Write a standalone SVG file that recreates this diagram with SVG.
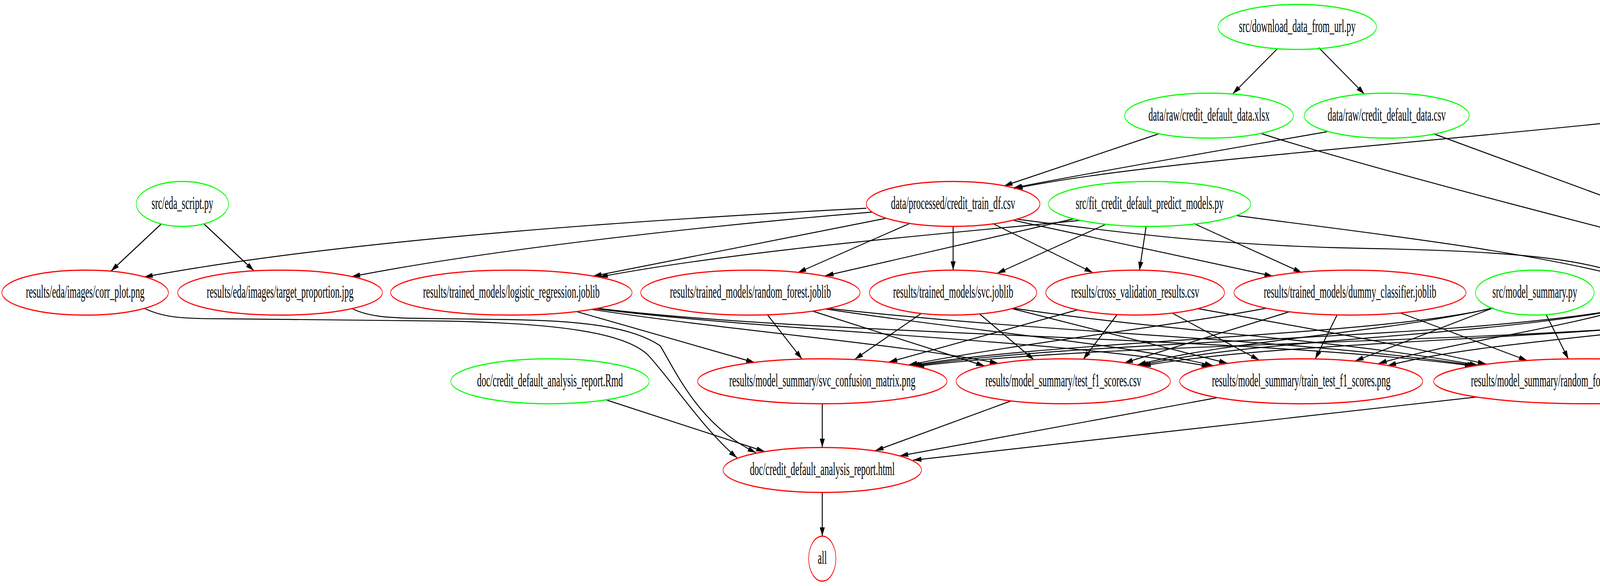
<svg xmlns="http://www.w3.org/2000/svg" width="5000" height="1500" viewBox="0 0 5000 1500">
<defs>
<marker id="ah" viewBox="0 0 22 13" refX="22" refY="6.5" markerWidth="22" markerHeight="13" markerUnits="userSpaceOnUse" orient="auto"><path d="M0,0 L22,6.5 L0,13 z" fill="#000"/></marker>
<style>
.nd ellipse{fill:none;stroke-width:3}
.g ellipse{stroke:#00ff00}
.r ellipse{stroke:#ff0000}
.nd text{font-family:"Liberation Serif","Times New Roman",serif;font-size:46px;text-anchor:middle;fill:#000}
#edges path{fill:none;stroke:#000;stroke-width:2.4;marker-end:url(#ah)}
</style>
</defs>
<rect width="5000" height="1500" fill="#fff"/>
<g id="edges">
<path d="M3270,125 L3156,240"/>
<path d="M3376,122 L3493,241"/>
<path d="M2968,342 L2570,476"/>
<path d="M3398,337 C3200,372 2800,440 2594,481"/>
<path d="M4121,314 C3500,378 2900,420 2596,483"/>
<path d="M3226,341 C3500,430 4200,610 4612,711"/>
<path d="M3669,342 L4650,703"/>
<path d="M4325,348 L4712,694"/>
<path d="M412,574 L284,694"/>
<path d="M523,574 L650,693"/>
<path d="M2218,533 C1700,560 900,610 369,709"/>
<path d="M2232,543 C1900,570 1300,630 900,708"/>
<path d="M2267,559 L1518,707"/>
<path d="M2766,564 C2400,600 1900,640 1534,709"/>
<path d="M2329,572 L2042,698"/>
<path d="M2749,560 L2112,706"/>
<path d="M2440,580 L2440,691"/>
<path d="M2831,574 L2552,700"/>
<path d="M2541,572 L2798,698"/>
<path d="M2934,580 L2917,692"/>
<path d="M2595,564 L3259,707"/>
<path d="M3056,572 L3333,698"/>
<path d="M2603,561 C2900,600 3150,630 3500,636 C3850,642 4050,660 4167,708"/>
<path d="M3167,552 C3450,590 3900,640 4160,710"/>
<path d="M1474,797 L1932,928"/>
<path d="M1515,792 C1900,850 2300,880 2556,930"/>
<path d="M1522,790 C2000,850 2700,868 3098,938"/>
<path d="M1528,789 C2100,860 3200,860 3772,937"/>
<path d="M1964,805 L2053,919"/>
<path d="M2079,796 L2521,937"/>
<path d="M2114,791 C2500,850 2850,875 3106,936"/>
<path d="M2118,789 C2700,855 3300,865 3778,936"/>
<path d="M2359,802 L2188,920"/>
<path d="M2507,803 L2647,921"/>
<path d="M2591,790 L3143,930"/>
<path d="M2595,789 C3000,850 3400,865 3784,935"/>
<path d="M2759,793 L2275,927"/>
<path d="M2860,805 L2773,920"/>
<path d="M3000,801 L3224,922"/>
<path d="M3066,790 C3350,840 3600,885 3805,932"/>
<path d="M3241,789 C3000,835 2600,880 2326,934"/>
<path d="M3301,798 L2878,929"/>
<path d="M3423,806 L3367,919"/>
<path d="M3585,801 L3910,923"/>
<path d="M3815,790 C3500,862 2700,872 2332,936"/>
<path d="M3819,789 C3550,852 3150,870 2912,934"/>
<path d="M3823,788 L3469,924"/>
<path d="M3958,805 L4015,919"/>
<path d="M4160,790 C3700,872 2800,868 2338,937"/>
<path d="M4165,789 C3800,862 3200,868 2918,936"/>
<path d="M4170,788 C3950,850 3700,880 3528,931"/>
<path d="M4256,804 L4123,919"/>
<path d="M4618,791 C4150,880 2900,868 2344,938"/>
<path d="M4623,790 C4150,870 3300,868 2924,937"/>
<path d="M4628,789 C4200,860 3800,872 3552,936"/>
<path d="M4634,792 L4218,924"/>
<path d="M2105,1034 L2105,1145"/>
<path d="M2589,1026 L2240,1154"/>
<path d="M3116,1018 L2303,1167"/>
<path d="M3782,1016 L2337,1178"/>
<path d="M1550,1023 L1958,1156"/>
<path d="M369,789 C420,814 470,816 580,816 L1150,822 C1420,828 1600,850 1660,910 C1720,975 1800,1098 1887,1172"/>
<path d="M900,789 C940,810 990,814 1080,815 L1300,818 C1500,821 1620,838 1690,885 C1730,950 1790,1090 1936,1159"/>
<path d="M2105,1261 L2105,1372"/>
</g>
<g id="n_download" class="nd g" transform="translate(3321,69) scale(0.505,1)"><ellipse rx="402" ry="57.5"/><text y="13">src/download_data_from_url.py</text></g>
<g id="n_xlsx" class="nd g" transform="translate(3095,296) scale(0.505,1)"><ellipse rx="428" ry="57.5"/><text y="13">data/raw/credit_default_data.xlsx</text></g>
<g id="n_csv" class="nd g" transform="translate(3550,296) scale(0.505,1)"><ellipse rx="418" ry="57.5"/><text y="13">data/raw/credit_default_data.csv</text></g>
<g id="n_dataproc" class="nd g" transform="translate(4268,296) scale(0.505,1)"><ellipse rx="301" ry="57.5"/><text y="13">src/data_processing.py</text></g>
<g id="n_eda" class="nd g" transform="translate(467,522) scale(0.505,1)"><ellipse rx="234" ry="57.5"/><text y="13">src/eda_script.py</text></g>
<g id="n_train" class="nd r" transform="translate(2440,522) scale(0.505,1)"><ellipse rx="440" ry="57.5"/><text y="13">data/processed/credit_train_df.csv</text></g>
<g id="n_fit" class="nd g" transform="translate(2943,522) scale(0.505,1)"><ellipse rx="513" ry="57.5"/><text y="13">src/fit_credit_default_predict_models.py</text></g>
<g id="n_corr" class="nd r" transform="translate(218,749) scale(0.505,1)"><ellipse rx="422" ry="57.5"/><text y="13">results/eda/images/corr_plot.png</text></g>
<g id="n_target" class="nd r" transform="translate(717,749) scale(0.505,1)"><ellipse rx="519" ry="57.5"/><text y="13">results/eda/images/target_proportion.jpg</text></g>
<g id="n_logreg" class="nd r" transform="translate(1309,749) scale(0.505,1)"><ellipse rx="612" ry="57.5"/><text y="13">results/trained_models/logistic_regression.joblib</text></g>
<g id="n_rf" class="nd r" transform="translate(1921,749) scale(0.505,1)"><ellipse rx="556" ry="57.5"/><text y="13">results/trained_models/random_forest.joblib</text></g>
<g id="n_svc" class="nd r" transform="translate(2440,749) scale(0.505,1)"><ellipse rx="424" ry="57.5"/><text y="13">results/trained_models/svc.joblib</text></g>
<g id="n_cv" class="nd r" transform="translate(2906,749) scale(0.505,1)"><ellipse rx="453" ry="57.5"/><text y="13">results/cross_validation_results.csv</text></g>
<g id="n_dummy" class="nd r" transform="translate(3456,749) scale(0.505,1)"><ellipse rx="588" ry="57.5"/><text y="13">results/trained_models/dummy_classifier.joblib</text></g>
<g id="n_modelsum" class="nd g" transform="translate(3929,749) scale(0.505,1)"><ellipse rx="301" ry="57.5"/><text y="13">src/model_summary.py</text></g>
<g id="n_knn" class="nd r" transform="translate(4322,749) scale(0.505,1)"><ellipse rx="432" ry="57.5"/><text y="13">results/trained_models/knn.joblib</text></g>
<g id="n_test" class="nd r" transform="translate(4778,749) scale(0.505,1)"><ellipse rx="430" ry="57.5"/><text y="13">data/processed/credit_test_df.csv</text></g>
<g id="n_rmd" class="nd g" transform="translate(1408,976) scale(0.505,1)"><ellipse rx="503" ry="57.5"/><text y="13">doc/credit_default_analysis_report.Rmd</text></g>
<g id="n_svccm" class="nd r" transform="translate(2105,976) scale(0.505,1)"><ellipse rx="632" ry="57.5"/><text y="13">results/model_summary/svc_confusion_matrix.png</text></g>
<g id="n_testf1" class="nd r" transform="translate(2722,976) scale(0.505,1)"><ellipse rx="543" ry="57.5"/><text y="13">results/model_summary/test_f1_scores.csv</text></g>
<g id="n_traintest" class="nd r" transform="translate(3331,976) scale(0.505,1)"><ellipse rx="616" ry="57.5"/><text y="13">results/model_summary/train_test_f1_scores.png</text></g>
<g id="n_rfcm" class="nd r" transform="translate(4056,976) scale(0.505,1)"><ellipse rx="764" ry="57.5"/><text y="13">results/model_summary/random_forest_confusion_matrix.png</text></g>
<g id="n_html" class="nd r" transform="translate(2105,1203) scale(0.505,1)"><ellipse rx="503" ry="57.5"/><text y="13">doc/credit_default_analysis_report.html</text></g>
<g id="n_all" class="nd r" transform="translate(2105,1430) scale(0.505,1)"><ellipse rx="69" ry="57.5"/><text y="13">all</text></g>
</svg>
